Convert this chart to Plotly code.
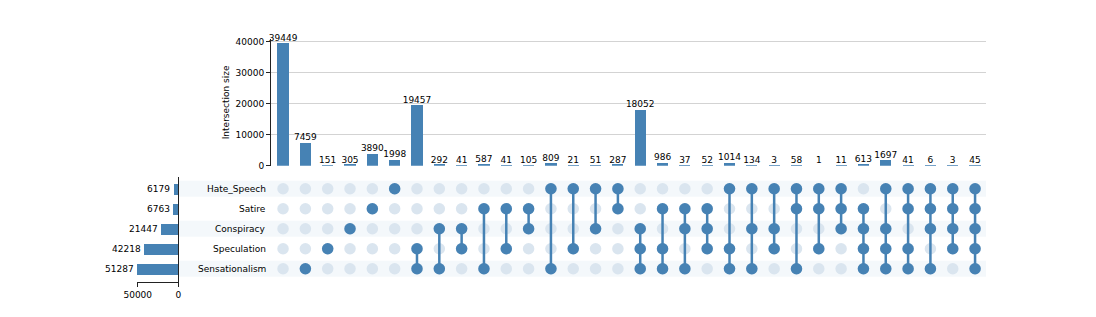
import plotly.graph_objects as go

# ---------------- data ----------------
categories = ["Hate_Speech", "Satire", "Conspiracy", "Speculation", "Sensationalism"]
category_totals = [6179, 6763, 21447, 42218, 51287]

intersection_sizes = [39449, 7459, 151, 305, 3890, 1998, 19457, 292, 41, 587, 41, 105,
                      809, 21, 51, 287, 18052, 986, 37, 52, 1014, 134, 3, 58, 1, 11,
                      613, 1697, 41, 6, 3, 45]

# membership per intersection (category names)
intersection_members = [
    [],
    ["Sensationalism"],
    ["Speculation"],
    ["Conspiracy"],
    ["Satire"],
    ["Hate_Speech"],
    ["Speculation", "Sensationalism"],
    ["Conspiracy", "Sensationalism"],
    ["Conspiracy", "Speculation"],
    ["Satire", "Sensationalism"],
    ["Satire", "Speculation"],
    ["Satire", "Conspiracy"],
    ["Hate_Speech", "Sensationalism"],
    ["Hate_Speech", "Speculation"],
    ["Hate_Speech", "Conspiracy"],
    ["Hate_Speech", "Satire"],
    ["Conspiracy", "Speculation", "Sensationalism"],
    ["Satire", "Speculation", "Sensationalism"],
    ["Satire", "Conspiracy", "Sensationalism"],
    ["Satire", "Conspiracy", "Speculation"],
    ["Hate_Speech", "Speculation", "Sensationalism"],
    ["Hate_Speech", "Conspiracy", "Sensationalism"],
    ["Hate_Speech", "Conspiracy", "Speculation"],
    ["Hate_Speech", "Satire", "Sensationalism"],
    ["Hate_Speech", "Satire", "Speculation"],
    ["Hate_Speech", "Satire", "Conspiracy"],
    ["Satire", "Conspiracy", "Speculation", "Sensationalism"],
    ["Hate_Speech", "Conspiracy", "Speculation", "Sensationalism"],
    ["Hate_Speech", "Satire", "Speculation", "Sensationalism"],
    ["Hate_Speech", "Satire", "Conspiracy", "Sensationalism"],
    ["Hate_Speech", "Satire", "Conspiracy", "Speculation"],
    ["Hate_Speech", "Satire", "Conspiracy", "Speculation", "Sensationalism"],
]

y_ticks = [0, 10000, 20000, 30000, 40000]
total_ticks = [50000, 0]

# ---------------- styling ----------------
W, H = 1096, 317
BLUE = "#4682b4"
LIGHT_DOT = "#dae5ef"
BAND = "#f4f8fb"
FONT = "DejaVu Sans"

def px_x(p):
    return p / W

def px_y(p):
    return 1 - p / H

n = len(intersection_sizes)
cols = list(range(n))

fig = go.Figure()

# intersection bars
fig.add_trace(go.Bar(x=cols, y=intersection_sizes, marker_color=BLUE, width=0.5,
                     marker_line_width=0, xaxis="x", yaxis="y", hoverinfo="skip"))
fig.add_trace(go.Scatter(x=cols, y=intersection_sizes, mode="text",
                         text=[str(v) for v in intersection_sizes],
                         textposition="top center", textfont=dict(size=9, color="black", family=FONT),
                         cliponaxis=False, xaxis="x", yaxis="y", hoverinfo="skip"))

# matrix background dots
bx, by = [], []
for c in cols:
    for r in range(len(categories)):
        bx.append(c)
        by.append(r)
fig.add_trace(go.Scatter(x=bx, y=by, mode="markers",
                         marker=dict(size=11.5, color=LIGHT_DOT, line_width=0),
                         xaxis="x2", yaxis="y2", hoverinfo="skip"))

# connecting lines
lx, ly = [], []
for c, mem in zip(cols, intersection_members):
    rows = [categories.index(m) for m in mem]
    if len(rows) > 1:
        lx += [c, c, None]
        ly += [min(rows), max(rows), None]
fig.add_trace(go.Scatter(x=lx, y=ly, mode="lines", line=dict(color=BLUE, width=2.5),
                         xaxis="x2", yaxis="y2", hoverinfo="skip"))

# filled dots
fx, fy = [], []
for c, mem in zip(cols, intersection_members):
    for m in mem:
        fx.append(c)
        fy.append(categories.index(m))
fig.add_trace(go.Scatter(x=fx, y=fy, mode="markers",
                         marker=dict(size=11.5, color=BLUE, line_width=0),
                         xaxis="x2", yaxis="y2", hoverinfo="skip"))

# totals bars
fig.add_trace(go.Bar(x=category_totals, y=list(range(len(categories))), orientation="h",
                     marker_color=BLUE, width=0.55, marker_line_width=0,
                     xaxis="x3", yaxis="y3", hoverinfo="skip"))

# row shading bands
shapes = []
for r in range(0, len(categories), 2):
    shapes.append(dict(type="rect", xref="paper", yref="y2", x0=px_x(179), x1=px_x(986),
                       y0=r - 0.4, y1=r + 0.4, fillcolor=BAND, line_width=0, layer="below"))

annotations = []
for r, name in enumerate(categories):
    annotations.append(dict(xref="x2 domain", yref="y2", x=0, y=r, text=name, showarrow=False,
                            xanchor="right", yanchor="middle", xshift=-3,
                            font=dict(size=9, color="black", family=FONT)))
for r, v in enumerate(category_totals):
    annotations.append(dict(xref="x3", yref="y3", x=v, y=r, text=str(v), showarrow=False,
                            xanchor="right", yanchor="middle", xshift=-1,
                            font=dict(size=9, color="black", family=FONT)))

xr = [-0.54, n - 1 + 0.49]
main_dom_x = [px_x(271), px_x(986)]
mat_dom_y = [px_y(281.7), px_y(176.7)]

fig.update_layout(
    template="none",
    width=W, height=H, margin=dict(l=0, r=0, t=0, b=0, pad=0, autoexpand=False),
    paper_bgcolor="white", plot_bgcolor="rgba(0,0,0,0)",
    showlegend=False, font=dict(family=FONT, size=9, color="black"),
    bargap=0,
    shapes=shapes, annotations=annotations,
    xaxis=dict(domain=main_dom_x, range=xr, anchor="y", showticklabels=False, ticks="",
               showgrid=False, zeroline=False, showline=False, automargin=False),
    yaxis=dict(domain=[px_y(165.7), px_y(39)], range=[0, 40870], anchor="x",
               tickvals=y_ticks, tickformat="d", ticks="outside", ticklen=4, tickwidth=1,
               tickcolor="#222", automargin=False,
               showline=True, linecolor="#222", linewidth=1,
               showgrid=True, gridcolor="#d3d3d3", gridwidth=1, zeroline=False,
               tickfont=dict(size=9, color="black", family=FONT),
               title=dict(text="Intersection size", font=dict(size=9, color="black", family=FONT),
                          standoff=4)),
    xaxis2=dict(domain=main_dom_x, range=xr, anchor="y2", visible=False, automargin=False),
    yaxis2=dict(domain=mat_dom_y, range=[4.65, -0.6], anchor="x2", visible=False, automargin=False),
    xaxis3=dict(domain=[px_x(136.7), px_x(178.3)], range=[51287, 0], anchor="y3",
                tickvals=total_ticks, tickformat="d", ticks="outside", ticklen=4, tickwidth=1,
                tickcolor="#222", automargin=False,
                showline=True, linecolor="#222", linewidth=1, showgrid=False, zeroline=False,
                tickfont=dict(size=9, color="black", family=FONT)),
    yaxis3=dict(domain=mat_dom_y, range=[4.65, -0.6], anchor="x3", side="right",
                showline=True, linecolor="#222", linewidth=1, showticklabels=False,
                ticks="", showgrid=False, zeroline=False, automargin=False),
)

fig.write_html("out.html", config={"displayModeBar": False},
               post_script="document.body.style.margin='0px';")
